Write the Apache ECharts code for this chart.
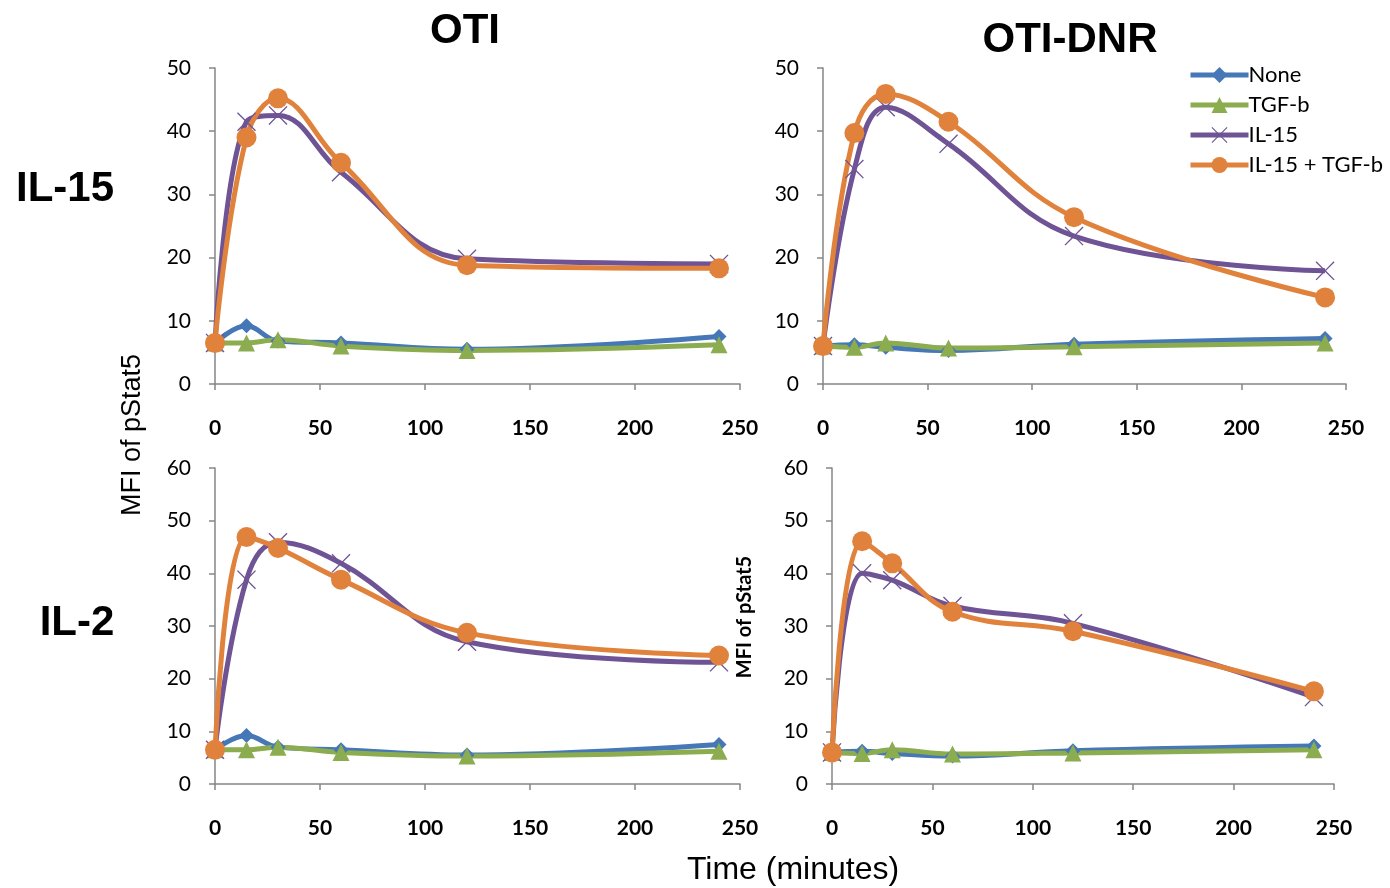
<!DOCTYPE html>
<html>
<head>
<meta charset="utf-8">
<script src="https://cdn.jsdelivr.net/npm/echarts@6/dist/echarts.min.js"></script>
<style>
  html, body { margin: 0; padding: 0; background: #fff; }
  #chart { width: 1390px; height: 888px; }
</style>
</head>
<body>
<div id="chart"></div>
<script>
// time points (minutes)
var times = [0, 15, 30, 60, 120, 240];
var seriesNames = ['None', 'TGF-b', 'IL-15', 'IL-15 + TGF-b'];

// OTI, IL-15 stimulation
var otiIl15None   = [6.5, 9.2, 6.8, 6.5, 5.5, 7.5];
var otiIl15Tgf    = [6.5, 6.5, 7.0, 6.0, 5.3, 6.2];
var otiIl15Il15   = [6.5, 41.5, 42.5, 33.5, 19.8, 19.0];
var otiIl15Both   = [6.5, 39.0, 45.2, 35.0, 18.8, 18.3];

// OTI-DNR, IL-15 stimulation
var dnrIl15None   = [6.0, 6.2, 5.8, 5.3, 6.3, 7.2];
var dnrIl15Tgf    = [6.0, 5.8, 6.5, 5.7, 5.9, 6.5];
var dnrIl15Il15   = [6.0, 34.0, 43.8, 38.0, 23.4, 17.9];
var dnrIl15Both   = [6.0, 39.7, 45.9, 41.5, 26.4, 13.7];

// OTI, IL-2 stimulation
var otiIl2None    = [6.5, 9.2, 7.0, 6.5, 5.5, 7.5];
var otiIl2Tgf     = [6.5, 6.5, 7.0, 6.0, 5.3, 6.2];
var otiIl2Il15    = [6.5, 38.8, 45.9, 41.9, 27.0, 23.1];
var otiIl2Both    = [6.5, 46.9, 44.8, 38.8, 28.7, 24.4];

// OTI-DNR, IL-2 stimulation
var dnrIl2None    = [6.0, 6.2, 5.8, 5.3, 6.3, 7.2];
var dnrIl2Tgf     = [6.0, 5.8, 6.5, 5.7, 5.9, 6.5];
var dnrIl2Il15    = [6.0, 40.0, 38.7, 33.8, 30.5, 16.5];
var dnrIl2Both    = [6.0, 46.1, 41.9, 32.7, 29.0, 17.6];

var xTicks = [0, 50, 100, 150, 200, 250];
var yTicksTop = [0, 10, 20, 30, 40, 50];
var yTicksBottom = [0, 10, 20, 30, 40, 50, 60];

var panels = [
  [otiIl15None, otiIl15Tgf, otiIl15Il15, otiIl15Both],
  [dnrIl15None, dnrIl15Tgf, dnrIl15Il15, dnrIl15Both],
  [otiIl2None, otiIl2Tgf, otiIl2Il15, otiIl2Both],
  [dnrIl2None, dnrIl2Tgf, dnrIl2Il15, dnrIl2Both]
];
var yMax = [yTicksTop[yTicksTop.length - 1], yTicksTop[yTicksTop.length - 1],
            yTicksBottom[yTicksBottom.length - 1], yTicksBottom[yTicksBottom.length - 1]];

var colors = ['#4677b6', '#8cac50', '#6f5495', '#e0823c'];
var crossPath = 'path://M1,0L10,9L19,0L20,1L11,10L20,19L19,20L10,11L1,20L0,19L9,10L0,1Z';
var symbols = ['diamond', 'triangle', crossPath, 'circle'];
var symbolSizes = [15, 17, 19, 20];

var myChart = echarts.init(document.getElementById('chart'));

var grids = [
  { left: 215, top: 68, width: 525, height: 316 },
  { left: 823, top: 68, width: 523, height: 316 },
  { left: 215, top: 468, width: 525, height: 316 },
  { left: 832, top: 468, width: 502, height: 316 }
];

var xAxes = [], yAxes = [], series = [];
grids.forEach(function (g, i) {
  xAxes.push({
    type: 'value', gridIndex: i, min: xTicks[0], max: xTicks[xTicks.length - 1], interval: 50,
    axisLine: { lineStyle: { color: '#868686', width: 1.5 } },
    axisTick: { show: true, length: 6, lineStyle: { color: '#868686', width: 1.5 } },
    splitLine: { show: false },
    axisLabel: { margin: 34, color: '#000', fontSize: 21, fontWeight: 'bold', fontFamily: 'Lato' }
  });
  yAxes.push({
    type: 'value', gridIndex: i, min: 0, max: yMax[i], interval: 10,
    axisLine: { show: true, lineStyle: { color: '#868686', width: 1.5 } },
    axisTick: { show: true, length: 6, lineStyle: { color: '#868686', width: 1.5 } },
    splitLine: { show: false },
    axisLabel: { margin: 24, color: '#000', fontSize: 21, fontFamily: 'Lato' }
  });
  panels[i].forEach(function (vals, k) {
    series.push({
      name: seriesNames[k],
      type: 'line',
      xAxisIndex: i, yAxisIndex: i,
      smooth: 0.4,
      data: times.map(function (t, j) { return [t, vals[j]]; }),
      symbol: symbols[k],
      symbolSize: symbolSizes[k],
      showAllSymbol: true,
      lineStyle: { color: colors[k], width: 5 },
      itemStyle: { color: colors[k] },
      emphasis: { disabled: true },
      animation: false
    });
  });
});

var titleFont = { fontSize: 42, fontWeight: 'bold', fontFamily: 'Liberation Sans', color: '#000' };

var option = {
  animation: false,
  title: [
    { text: 'OTI', left: 460, top: 5, textAlign: 'center', textStyle: titleFont },
    { text: 'OTI-DNR', left: 1065, top: 14, textAlign: 'center', textStyle: titleFont },
    { text: 'IL-15', left: 60, top: 163, textAlign: 'center', textStyle: titleFont },
    { text: 'IL-2', left: 72, top: 597, textAlign: 'center', textStyle: titleFont },
    { text: 'Time (minutes)', left: 788, top: 849, textAlign: 'center',
      textStyle: { fontSize: 32, fontWeight: 'normal', fontFamily: 'Liberation Sans', color: '#000' } }
  ],
  graphic: [
    { type: 'text', x: 133, y: 435, rotation: Math.PI / 2,
      style: { text: 'MFI of pStat5', fill: '#000', font: '27px "Liberation Sans"',
               textAlign: 'center', textVerticalAlign: 'middle' } },
    { type: 'text', x: 745, y: 617, rotation: Math.PI / 2,
      style: { text: 'MFI of pStat5', fill: '#000', font: 'bold 20px Lato',
               textAlign: 'center', textVerticalAlign: 'middle' } }
  ],
  legend: {
    orient: 'vertical',
    left: 1183, top: 59,
    itemWidth: 58, itemHeight: 20, itemGap: 8,
    data: seriesNames,
    lineStyle: { width: 5 },
    textStyle: { fontSize: 22, fontFamily: 'Lato', color: '#000', padding: [0, 0, 0, -5] }
  },
  grid: grids,
  xAxis: xAxes,
  yAxis: yAxes,
  series: series
};

myChart.setOption(option);
</script>
</body>
</html>
